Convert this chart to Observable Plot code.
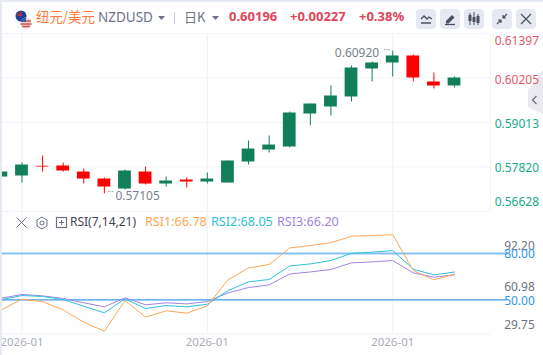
<!DOCTYPE html>
<html><head><meta charset="utf-8">
<script src="https://cdn.jsdelivr.net/npm/d3@7"></script>
<script src="https://cdn.jsdelivr.net/npm/@observablehq/plot@0.6"></script>
<style>
html,body{margin:0;padding:0;background:#fff;overflow:hidden}
body{width:543px;height:355px;position:relative;font-family:"Noto Sans CJK SC","Noto Sans",Roboto,sans-serif}
#frameT{position:absolute;left:0;top:0;width:543px;height:2px;background:#e6eaf2;z-index:3}
#frameL{position:absolute;left:0;top:0;width:2px;height:355px;background:#e6eaf2;z-index:3}
.t{position:absolute;white-space:nowrap;line-height:1;z-index:2}
.b{position:absolute;top:9px;width:20px;height:20px;border-radius:4px;background:#e6e9f2;z-index:2}
.b svg,.i{display:block}
.i{position:absolute;z-index:2}
#price,#rsi{position:absolute;left:0;z-index:1}
#price{top:0}
#rsi{top:211px}
svg{overflow:hidden}
</style></head><body>
<div id="frameT"></div><div id="frameL"></div>
<svg class="i" style="left:15px;top:9px" width="18" height="20" viewBox="0 0 18 20">
 <circle cx="6" cy="7" r="5.5" fill="#1f3f8f"/><path d="M1.5 4 L6 7 M6 2 L6 7 M2 6h5" stroke="#d33" stroke-width="1"/>
 <circle cx="11" cy="14" r="5.5" fill="#f3d6d6"/><path d="M6 12h10M5.6 15h11M7 17.5h8" stroke="#d9534f" stroke-width="1.3"/><path d="M6 12a5.5 5.5 0 0 1 5-3.5V13H6z" fill="#3b5aa8"/>
</svg>
<div class="t" style="left:36px;top:9.5px;font-size:13.4px;color:#ff7a3d">纽元/美元</div>
<div class="t" style="left:98px;top:10.5px;font-size:13.5px;color:#6d7385;font-family:'Noto Sans'">NZDUSD</div>
<svg class="i" style="left:158px;top:16px" width="8" height="5"><path d="M0 0H7L3.5 4z" fill="#6d7385"/></svg>
<div class="i" style="left:174px;top:12px;width:1px;height:12px;background:#c9ccd6"></div>
<div class="t" style="left:184px;top:9.5px;font-size:13px;color:#6d7385">日K</div>
<svg class="i" style="left:212px;top:16px" width="8" height="5"><path d="M0 0H7L3.5 4z" fill="#6d7385"/></svg>
<div class="t" style="left:229px;top:10px;font-size:13px;font-weight:700;color:#e0455a;font-family:'Noto Sans'">0.60196</div>
<div class="t" style="left:290px;top:10px;font-size:13px;font-weight:700;color:#e0455a;font-family:'Noto Sans'">+0.00227</div>
<div class="t" style="left:359px;top:10px;font-size:13px;font-weight:700;color:#e0455a;font-family:'Noto Sans'">+0.38%</div>
<div class="b" style="left:416px"><svg width="20" height="20"><path d="M5 10l3-3 3 3 2-2 3 2" fill="none" stroke="#4a5060" stroke-width="1.3"/><path d="M5 14h10" stroke="#4a5060" stroke-width="1.5"/></svg></div>
<div class="b" style="left:440px"><svg width="20" height="20"><path d="M6 12l6-6 2.5 2.5-6 6H6z" fill="#4a5060"/><path d="M5 15.5h10" stroke="#4a5060" stroke-width="1.3"/></svg></div>
<div class="b" style="left:464px"><svg width="20" height="20"><path d="M6 4v12M10 3v13M14 5v11" stroke="#4a5060"/><rect x="4.5" y="6" width="3" height="6" fill="#4a5060"/><rect x="8.5" y="8" width="3" height="5" fill="#4a5060"/><rect x="12.5" y="7" width="3" height="7" fill="#4a5060"/></svg></div>
<div class="b" style="left:492px"><svg width="20" height="20"><path d="M5 15l4-4M15 5l-4 4M6 11h3v3M14 9h-3V6" fill="none" stroke="#4a5060" stroke-width="1.2"/></svg></div>
<div class="b" style="left:516px"><svg width="20" height="20"><path d="M5 5l10 10M15 5L5 15" stroke="#4a5060" stroke-width="1.2"/></svg></div>
<svg class="i" style="left:528px;top:69px;z-index:0" width="15" height="48"><path d="M0 21L15 1V45L0 38z" fill="#e9e9ef"/><path d="M8.5 27l-4 4 4 4" fill="none" stroke="#6d7385" stroke-width="1.3"/></svg>
<svg class="i" style="left:15px;top:216px" width="56" height="14">
 <path d="M1.5 1.5l10 10M11.5 1.5l-10 10" stroke="#6d7385" stroke-width="1"/>
 <path d="M27 1l5 3v6l-5 3-5-3V4z" fill="none" stroke="#6d7385"/><circle cx="27" cy="7" r="2" fill="none" stroke="#6d7385"/>
 <rect x="41.5" y="1.5" width="10" height="10" fill="none" stroke="#6d7385" stroke-width="1.2"/><path d="M44 6.5h5M46.5 4v5" stroke="#6d7385"/>
</svg>
<div class="t" style="left:70px;top:216px;font-size:12px;color:#3f4454;font-family:'Noto Sans'">RSI(7,14,21)</div>
<div class="t" style="left:145px;top:216px;font-size:12.6px;color:#ffa657;font-family:'Noto Sans'">RSI1:66.78</div>
<div class="t" style="left:211px;top:216px;font-size:12.6px;color:#2fc1dc;font-family:'Noto Sans'">RSI2:68.05</div>
<div class="t" style="left:277px;top:216px;font-size:12.6px;color:#a285e3;font-family:'Noto Sans'">RSI3:66.20</div>
<div id="price"></div><div id="rsi"></div>
<script>
const index = d3.range(23);
const open  = [.57552,.57579,.57840,.57847,.57686,.57498,.57230,.57686,.57364,.57471,.57418,.57391,.57954,.58275,.58356,.59240,.59428,.59696,.60446,.60607,.60795,.60098,.59991];
const close = [.57686,.57873,.57820,.57713,.57498,.57284,.57713,.57364,.57445,.57418,.57498,.57981,.58302,.58409,.59267,.59508,.59723,.60473,.60607,.60795,.60205,.59991,.60205];
const high  = [.57686,.57927,.58115,.57927,.57766,.57525,.57739,.57820,.57552,.57525,.57659,.57981,.58517,.58651,.59294,.59508,.59991,.60527,.60634,.60925,.60821,.60339,.60232];
const low   = [.57552,.57391,.57686,.57686,.57364,.57105,.57203,.57337,.57284,.57257,.57364,.57391,.57873,.58195,.58329,.58919,.59187,.59562,.60098,.60232,.60098,.59910,.59937];
const rsi1  = [43.5,50.4,48.9,43.5,35.5,29.7,49.6,38.8,42.9,41.4,46.1,63.0,70.7,72.9,83.7,85.2,87.1,91.3,91.7,92.3,69.0,63.0,66.78];
const rsi2  = [50.2,52.8,52.2,50.2,45.9,41.6,50.6,44.4,46.3,45.5,47.2,56.0,61.7,63.2,72.0,73.3,75.5,80.2,80.9,82.0,69.9,66.2,68.05];
const rsi3  = [51.1,53.5,52.6,50.9,48.1,45.5,51.3,46.8,48.1,47.4,48.9,54.5,58.0,59.7,66.8,68.1,69.7,74.0,74.6,75.5,67.5,64.7,66.20];
const priceTicks = [0.61397,0.60205,0.59013,0.57820,0.56628];
const rsiTicks = [92.20,60.98,29.75];
const rsiRefs = [80,50];
const gridIndex = [1,10,19];
const dateLabel = "2026-01";

const GREEN="#11805a", RED="#ff0000", GRID="#f2f3f7";
const xOpt = {domain:[0,22], range:[0.9,454], axis:null};
const font = "'Noto Sans',Roboto,sans-serif";
const up = i => close[i] >= open[i];
const col = i => up(i) ? GREEN : RED;
const halfBody = 0.31;

const priceLabelOffsets = [8,2,1.5,1.5,-9];
const priceColor = v => v >= 0.60 ? "#e4586a" : "#14ab8d";

const price = Plot.plot({
  width:543, height:214, marginTop:0, marginBottom:0, marginLeft:0, marginRight:0,
  style:{background:"transparent"},
  x:xOpt,
  y:{domain:[0.56628,0.61397], range:[211,33], axis:null},
  marks:[
    Plot.ruleY(priceTicks.slice(1,4),{x1:-0.05,x2:23.75,stroke:GRID,strokeWidth:1.2}),
    Plot.ruleY([0.61397,0.56628],{x1:-0.05,x2:23.75,stroke:GRID,strokeWidth:1}),
    Plot.ruleX(gridIndex,{y1:0.56628,y2:0.61397,stroke:GRID,strokeWidth:1.2}),
    Plot.ruleX([23.75],{y1:0.56628,y2:0.61397,stroke:GRID,strokeWidth:1}),
    Plot.ruleX(index,{x:i=>i,y1:i=>low[i],y2:i=>high[i],stroke:col,strokeWidth:1}),
    Plot.rect(index,{x1:i=>i-halfBody,x2:i=>i+halfBody,y1:i=>Math.min(open[i],close[i]),y2:i=>Math.max(open[i],close[i]),fill:col}),
    ...priceTicks.map((v,k)=>Plot.text([v],{x:()=>23.95,y:d=>d,text:d=>d.toFixed(5),dy:priceLabelOffsets[k],textAnchor:"start",fill:priceColor(v),fontSize:12,fontFamily:font})),
    Plot.text([0.60920],{x:()=>19,y:d=>d,text:d=>d.toFixed(5),dx:-13.5,dy:1.5,textAnchor:"end",fill:"#7a7f8e",fontSize:12,fontFamily:font}),
    Plot.text([0.57105],{x:()=>5,y:d=>d,text:d=>d.toFixed(5),dx:11,dy:2,textAnchor:"start",fill:"#7a7f8e",fontSize:12,fontFamily:font}),
    Plot.text(["···"],{x:()=>19,y:()=>0.60920,text:d=>d,dx:-6,dy:-1,fill:"#7a7f8e",fontSize:8,fontFamily:font}),
    Plot.text(["···"],{x:()=>5,y:()=>0.57105,text:d=>d,dx:6,dy:-1,fill:"#7a7f8e",fontSize:8,fontFamily:font})
  ]
});
document.getElementById("price").append(price);

const rsiLabelOffsets = [11,4,-5.5];
const rsiSeries = [[rsi3,"#a285e3"],[rsi2,"#2fc1dc"],[rsi1,"#ffa657"]];
const rsiPlot = Plot.plot({
  width:543, height:144, marginTop:0, marginBottom:0, marginLeft:0, marginRight:0,
  style:{background:"transparent"},
  x:xOpt,
  y:{domain:[28,106], range:[122.3,2], axis:null},
  marks:[
    Plot.ruleY([28],{x1:-0.05,x2:23.75,stroke:GRID,strokeWidth:1.2}),
    Plot.ruleX(gridIndex,{y1:28,y2:106,stroke:GRID,strokeWidth:1.2}),
    Plot.ruleY([rsiRefs[0]],{x1:-0.05,x2:24.55,stroke:"#85c1f2",strokeWidth:2}),
    Plot.ruleY([rsiRefs[1]],{x1:-0.05,x2:24.55,stroke:"#3d9cec",strokeWidth:1.3}),
    ...rsiSeries.map(([s,c])=>Plot.line(index,{x:i=>i,y:i=>s[i],stroke:c,strokeWidth:1,curve:"linear"})),
    ...rsiTicks.map((v,k)=>Plot.text([v],{x:()=>25.9,y:d=>d,text:d=>d.toFixed(2),dy:rsiLabelOffsets[k],textAnchor:"end",fill:"#6d7385",fontSize:12,fontFamily:font})),
    Plot.text(rsiRefs,{x:()=>25.9,y:d=>d,text:d=>d.toFixed(2),dy:1,textAnchor:"end",fill:"#2f96ee",fontSize:12,fontFamily:font}),
    Plot.text(gridIndex,{x:d=>d,y:()=>28,text:()=>dateLabel,dy:9,fill:"#a9adb9",fontSize:11.5,fontFamily:font})
  ]
});
document.getElementById("rsi").append(rsiPlot);
</script>
</body></html>
